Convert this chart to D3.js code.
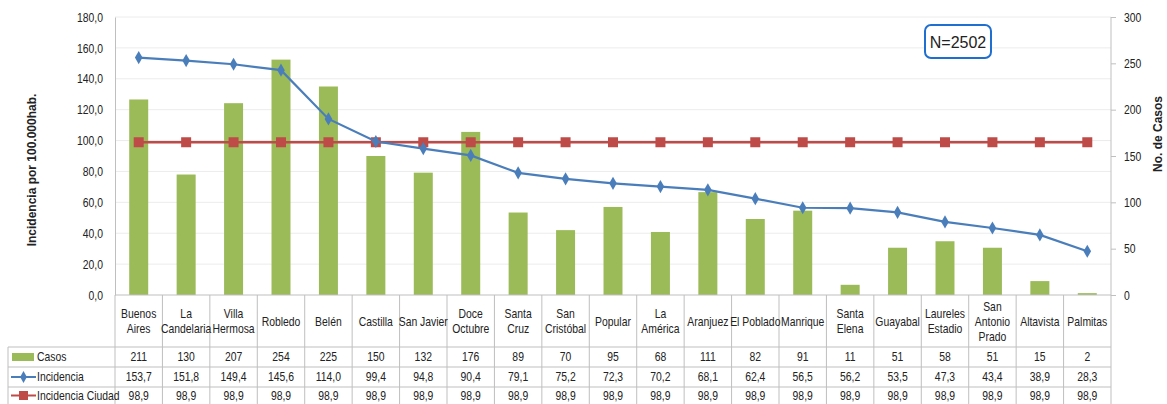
<!DOCTYPE html>
<html><head><meta charset="utf-8">
<script src="https://cdn.jsdelivr.net/npm/d3@7"></script>
<style>
body{margin:0;background:#fff;}
text{font-family:"Liberation Sans","Arial",sans-serif;fill:#222;}
</style></head><body>
<svg id="c" width="1167" height="404"></svg>
<script>
const categories = [["Buenos","Aires"],["La","Candelaria"],["Villa","Hermosa"],["Robledo"],["Belén"],["Castilla"],["San Javier"],["Doce","Octubre"],["Santa","Cruz"],["San","Cristóbal"],["Popular"],["La","América"],["Aranjuez"],["El Poblado"],["Manrique"],["Santa","Elena"],["Guayabal"],["Laureles","Estadio"],["San","Antonio","Prado"],["Altavista"],["Palmitas"]];
const casos = [211,130,207,254,225,150,132,176,89,70,95,68,111,82,91,11,51,58,51,15,2];
const incidencia = [153.7,151.8,149.4,145.6,114.0,99.4,94.8,90.4,79.1,75.2,72.3,70.2,68.1,62.4,56.5,56.2,53.5,47.3,43.4,38.9,28.3];
const incidenciaCiudad = [98.9,98.9,98.9,98.9,98.9,98.9,98.9,98.9,98.9,98.9,98.9,98.9,98.9,98.9,98.9,98.9,98.9,98.9,98.9,98.9,98.9];
const leftTicks = [0,20,40,60,80,100,120,140,160,180];
const rightTicks = [0,50,100,150,200,250,300];
const seriesNames = ["Casos","Incidencia","Incidencia Ciudad"];
const nLabel = "N=2502";

const svg = d3.select("#c");
const L = 115, R = 1111, T = 17, B = 295;
const x = d3.scaleBand().domain(d3.range(categories.length)).range([L,R]);
const yL = d3.scaleLinear().domain([0,180]).range([B,T]);
const yR = d3.scaleLinear().domain([0,300]).range([B,T]);
const fmt = d => d.toFixed(1).replace(".",",");
const green="#9bbb59", blue="#4a7ebb", red="#be4b48", grid="#ececec", line="#bfbfbf";
const SX = 0.8;
function condense(sel){
  sel.each(function(){
    const t=d3.select(this);
    let ax=+t.attr("x")||0;
    const ts=t.select("tspan"); if(!ts.empty()&&ts.attr("x")!=null) ax=+ts.attr("x");
    const ay=+t.attr("y")||0;
    t.attr("transform",`translate(${ax},${ay}) scale(${SX},1) translate(${-ax},${-ay})`);
  });
}

// gridlines
svg.append("g").selectAll("line").data(leftTicks.slice(1)).join("line")
 .attr("x1",L).attr("x2",R).attr("y1",d=>yL(d)).attr("y2",d=>yL(d))
 .attr("stroke",grid).attr("stroke-width",1);

// left axis
const gl = svg.append("g").attr("transform",`translate(${L},0)`)
 .call(d3.axisLeft(yL).tickValues(leftTicks).tickFormat(fmt).tickSize(0).tickPadding(12));
gl.select(".domain").attr("stroke",line);
gl.selectAll("text").attr("font-size",13).attr("fill","#333").call(condense);
// right axis
const gr = svg.append("g").attr("transform",`translate(${R},0)`)
 .call(d3.axisRight(yR).tickValues(rightTicks).tickSize(5).tickPadding(8));
gr.select(".domain").attr("stroke",line).attr("d",`M0,${T}V${B}`);
gr.selectAll("line").attr("stroke",line);
gr.selectAll("text").attr("font-size",13).attr("fill","#333").call(condense);

// bars
const bw = 19;
svg.append("g").selectAll("rect").data(casos).join("rect")
 .attr("x",(d,i)=>x(i)+x.bandwidth()/2-bw/2).attr("width",bw)
 .attr("y",d=>yR(d)).attr("height",d=>B-yR(d)).attr("fill",green);

// lines
const cx = i => x(i)+x.bandwidth()/2;
const lineGen = yS => d3.line().x((d,i)=>cx(i)).y(d=>yS(d));
svg.append("path").datum(incidenciaCiudad).attr("d",lineGen(yL)).attr("fill","none").attr("stroke",red).attr("stroke-width",2.5);
svg.append("g").selectAll("rect").data(incidenciaCiudad).join("rect")
 .attr("x",(d,i)=>cx(i)-5).attr("y",d=>yL(d)-5).attr("width",10).attr("height",10).attr("fill",red);
svg.append("path").datum(incidencia).attr("d",lineGen(yL)).attr("fill","none").attr("stroke",blue).attr("stroke-width",2.2);
svg.append("g").selectAll("path").data(incidencia).join("path")
 .attr("d",d3.symbol().type(d3.symbolDiamond).size(50))
 .attr("transform",(d,i)=>`translate(${cx(i)},${yL(d)})`).attr("fill",blue);

// axis titles
svg.append("text").attr("transform",`translate(36,170) rotate(-90)`).attr("text-anchor","middle")
 .attr("font-size",12).attr("font-weight","bold").text("Incidencia por 100.000hab.");
svg.append("text").attr("transform",`translate(1162,134) rotate(-90)`).attr("text-anchor","middle")
 .attr("font-size",12).attr("font-weight","bold").text("No. de Casos");

// N box
svg.append("rect").attr("x",925).attr("y",25).attr("width",66).attr("height",33).attr("rx",6)
 .attr("fill","#fff").attr("stroke","#1f6fd0").attr("stroke-width",2);
svg.append("text").attr("x",958).attr("y",47.5).attr("text-anchor","middle").attr("font-size",16)
 .attr("fill","#333").text(nLabel);

// data table
const rowY = [347,367,387,404];
const tbl = svg.append("g").attr("stroke",line).attr("stroke-width",1);
d3.range(categories.length+1).forEach(i=>{
  const xx = i<categories.length ? x(i) : R;
  tbl.append("line").attr("x1",xx).attr("x2",xx).attr("y1",B).attr("y2",404);
});
tbl.append("line").attr("x1",8).attr("x2",8).attr("y1",rowY[0]).attr("y2",404);
rowY.slice(0,3).forEach(yy=>tbl.append("line").attr("x1",8).attr("x2",R).attr("y1",yy).attr("y2",yy));
svg.append("line").attr("x1",L).attr("x2",R).attr("y1",B).attr("y2",B).attr("stroke",line);

// category headers
const hdr = svg.append("g");
categories.forEach((c,i)=>{
  const lh=15, n=c.length, mid=(B+rowY[0])/2+1;
  const y0 = mid-(n-1)*lh/2+4;
  const t = hdr.append("text").attr("text-anchor","middle").attr("font-size",13).attr("x",cx(i)).attr("y",y0);
  c.forEach((s,k)=>t.append("tspan").attr("x",cx(i)).attr("y",y0+k*lh).text(s));
});
condense(hdr.selectAll("text"));
// values
const rows=[casos.map(String),incidencia.map(fmt),incidenciaCiudad.map(fmt)];
rows.forEach((r,ri)=>{
  svg.append("g").selectAll("text").data(r).join("text")
   .attr("x",(d,i)=>cx(i)).attr("y",(rowY[ri]+rowY[ri+1])/2+4.5).attr("text-anchor","middle").attr("font-size",13).text(d=>d)
   .call(condense);
});
// legend keys
seriesNames.forEach((s,ri)=>{
  const my=(rowY[ri]+rowY[ri+1])/2;
  const g=svg.append("g");
  if(ri===0) g.append("rect").attr("x",12).attr("y",my-4).attr("width",22).attr("height",8).attr("fill",green);
  if(ri===1){ g.append("line").attr("x1",11).attr("x2",36).attr("y1",my).attr("y2",my).attr("stroke",blue).attr("stroke-width",2);
    g.append("path").attr("d",d3.symbol().type(d3.symbolDiamond).size(40)).attr("transform",`translate(23.5,${my})`).attr("fill",blue);}
  if(ri===2){ g.append("line").attr("x1",11).attr("x2",36).attr("y1",my).attr("y2",my).attr("stroke",red).attr("stroke-width",2);
    g.append("rect").attr("x",19).attr("y",my-4.5).attr("width",9).attr("height",9).attr("fill",red);}
  g.append("text").attr("x",37).attr("y",my+4.5).attr("font-size",13).text(s).call(condense);
});
</script></body></html>
